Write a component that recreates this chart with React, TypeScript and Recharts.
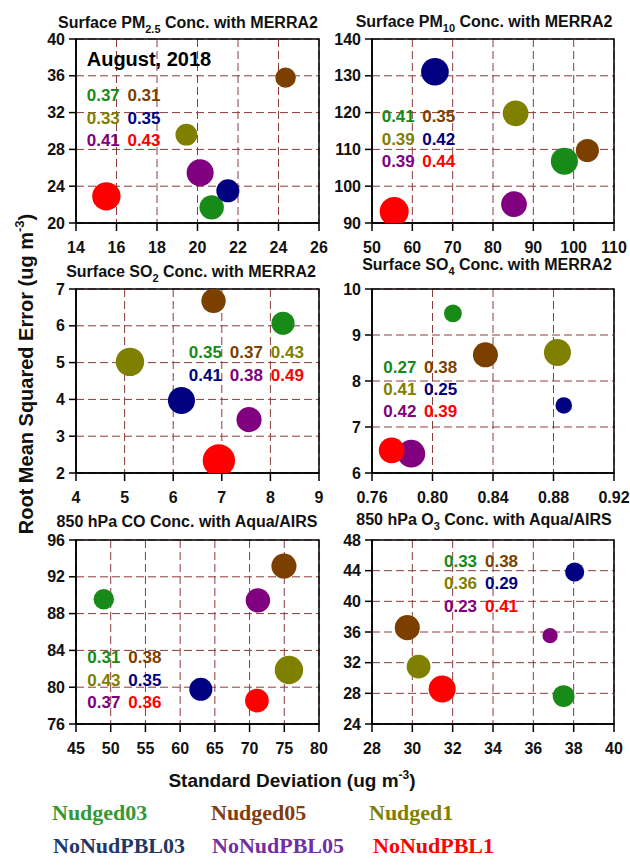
import React from 'react';
import { ScatterChart, Scatter, XAxis, YAxis, CartesianGrid, ReferenceArea, ReferenceDot } from 'recharts';

const seriesNames = ['Nudged03', 'Nudged05', 'Nudged1', 'NoNudPBL03', 'NoNudPBL05', 'NoNudPBL1'];
const bubbleColors = ['#188a18', '#7b3f00', '#808000', '#000080', '#800080', '#ff0000'];
const legendColors = ['#339933', '#843c0c', '#7f7f00', '#1f3864', '#7030a0', '#ff0000'];

// Surface PM2.5
const pm25Std = [20.7, 24.35, 19.45, 21.5, 20.13, 15.5];
const pm25Rmse = [21.7, 35.8, 29.6, 23.5, 25.46, 22.9];
const pm25Corr = [0.37, 0.31, 0.33, 0.35, 0.41, 0.43];
const pm25XTicks = [14, 16, 18, 20, 22, 24, 26];
const pm25YTicks = [20, 24, 28, 32, 36, 40];

// Surface PM10
const pm10Std = [97.7, 103.4, 85.6, 65.6, 85.2, 55.5];
const pm10Rmse = [106.8, 109.7, 119.8, 131.1, 95.1, 93.1];
const pm10Corr = [0.41, 0.35, 0.39, 0.42, 0.39, 0.44];
const pm10XTicks = [50, 60, 70, 80, 90, 100, 110];
const pm10YTicks = [90, 100, 110, 120, 130, 140];

// Surface SO2
const so2Std = [8.26, 6.83, 5.11, 6.17, 7.56, 6.94];
const so2Rmse = [6.07, 6.68, 5.02, 3.97, 3.45, 2.34];
const so2Corr = [0.35, 0.37, 0.43, 0.41, 0.38, 0.49];
const so2XTicks = [4, 5, 6, 7, 8, 9];
const so2YTicks = [2, 3, 4, 5, 6, 7];

// Surface SO4
const so4Std = [0.8135, 0.835, 0.8826, 0.8868, 0.786, 0.773];
const so4Rmse = [9.47, 8.57, 8.62, 7.47, 6.42, 6.49];
const so4Corr = [0.27, 0.38, 0.41, 0.25, 0.42, 0.39];
const so4XTicks = [0.76, 0.8, 0.84, 0.88, 0.92];
const so4YTicks = [6, 7, 8, 9, 10];

// 850 hPa CO
const coStd = [49.0, 74.95, 75.67, 62.98, 71.2, 71.06];
const coRmse = [89.55, 93.17, 81.87, 79.77, 89.44, 78.54];
const coCorr = [0.31, 0.38, 0.43, 0.35, 0.37, 0.36];
const coXTicks = [45, 50, 55, 60, 65, 70, 75, 80];
const coYTicks = [76, 80, 84, 88, 92, 96];

// 850 hPa O3
const o3Std = [37.5, 29.75, 30.31, 38.05, 36.83, 31.48];
const o3Rmse = [27.65, 36.57, 31.48, 43.83, 35.52, 28.57];
const o3Corr = [0.33, 0.38, 0.36, 0.29, 0.23, 0.41];
const o3XTicks = [28, 30, 32, 34, 36, 38, 40];
const o3YTicks = [24, 28, 32, 36, 40, 44, 48];

const SANS = '"Liberation Sans", Arial, sans-serif';
const SERIF = '"Liberation Serif", "Times New Roman", serif';
const RADIUS_PER_CORR = 33;
const GRID_COLOR = '#8e3b3b';

type PanelCfg = {
  std: number[];
  rmse: number[];
  corr: number[];
  xTicks: number[];
  yTicks: number[];
  box: [number, number, number, number];
  anno: { x: number; y: number };
  cols: number;
  colGap: number;
  rowGap: number;
  august?: boolean;
  xFmt?: (v: number) => string;
  title: { pre: string; sub: string; post: string; cx: number; base: number };
};

const panels: PanelCfg[] = [
  {
    std: pm25Std, rmse: pm25Rmse, corr: pm25Corr, xTicks: pm25XTicks, yTicks: pm25YTicks,
    box: [76, 39, 319, 223], anno: { x: 14.53, y: 33.26 }, cols: 2, colGap: 40.7, rowGap: 22.5, august: true,
    title: { pre: 'Surface PM', sub: '2.5', post: ' Conc. with MERRA2', cx: 188, base: 28 },
  },
  {
    std: pm10Std, rmse: pm10Rmse, corr: pm10Corr, xTicks: pm10XTicks, yTicks: pm10YTicks,
    box: [372, 39, 614, 223], anno: { x: 52.4, y: 117.5 }, cols: 2, colGap: 40.5, rowGap: 22.7,
    title: { pre: 'Surface PM', sub: '10', post: ' Conc. with MERRA2', cx: 484, base: 27 },
  },
  {
    std: so2Std, rmse: so2Rmse, corr: so2Corr, xTicks: so2XTicks, yTicks: so2YTicks,
    box: [76, 289, 319, 473], anno: { x: 6.32, y: 5.12 }, cols: 3, colGap: 41, rowGap: 22.7,
    title: { pre: 'Surface SO', sub: '2', post: ' Conc. with MERRA2', cx: 191, base: 277 },
  },
  {
    std: so4Std, rmse: so4Rmse, corr: so4Corr, xTicks: so4XTicks, yTicks: so4YTicks,
    box: [372, 289, 614, 473], anno: { x: 0.7675, y: 8.17 }, cols: 2, colGap: 40.7, rowGap: 21.7,
    xFmt: (v: number) => v.toFixed(2),
    title: { pre: 'Surface SO', sub: '4', post: ' Conc. with MERRA2', cx: 487, base: 270 },
  },
  {
    std: coStd, rmse: coRmse, corr: coCorr, xTicks: coXTicks, yTicks: coYTicks,
    box: [76, 540, 319, 724], anno: { x: 46.63, y: 82.6 }, cols: 2, colGap: 41, rowGap: 22.5,
    title: { pre: '850 hPa CO Conc. with Aqua/AIRS', sub: '', post: '', cx: 187, base: 527 },
  },
  {
    std: o3Std, rmse: o3Rmse, corr: o3Corr, xTicks: o3XTicks, yTicks: o3YTicks,
    box: [372, 540, 614, 724], anno: { x: 31.57, y: 44.52 }, cols: 2, colGap: 41, rowGap: 22.5,
    title: { pre: '850 hPa O', sub: '3', post: ' Conc. with Aqua/AIRS', cx: 484, base: 525 },
  },
];

const YW = 60;
const MT = 14;
const MR = 24;
const XH = 44;

const tickStyle = { fill: '#111', fontSize: 16, fontWeight: 700, fontFamily: SANS };

function AnnoText(props: any) {
  const { cx, cy, corr, cols, colGap, rowGap, august } = props;
  if (cx == null || cy == null) return null;
  return (
    <g>
      {august && (
        <text x={cx} y={cy - 35} fontSize={20} fontWeight={700} fontFamily={SANS} fill="#000">
          August, 2018
        </text>
      )}
      {corr.map((c: number, i: number) => (
        <text
          key={i}
          x={cx + (i % cols) * colGap}
          y={cy + Math.floor(i / cols) * rowGap}
          fontSize={17}
          fontWeight={700}
          fontFamily={SANS}
          fill={bubbleColors[i]}
        >
          {c.toFixed(2)}
        </text>
      ))}
    </g>
  );
}

function Panel({ p }: { p: PanelCfg }) {
  const [x0, y0, x1, y1] = p.box;
  const width = YW + (x1 - x0) + MR;
  const height = MT + (y1 - y0) + XH;
  const xMin = p.xTicks[0];
  const xMax = p.xTicks[p.xTicks.length - 1];
  const yMin = p.yTicks[0];
  const yMax = p.yTicks[p.yTicks.length - 1];
  return (
    <div style={{ position: 'absolute', left: x0 - YW, top: y0 - MT, width, height }}>
      <ScatterChart width={width} height={height} margin={{ top: MT, right: MR, bottom: 0, left: 0 }}>
        <CartesianGrid stroke={GRID_COLOR} strokeDasharray="8 4" strokeWidth={1} />
        <XAxis
          type="number"
          dataKey="std"
          domain={[xMin, xMax]}
          ticks={p.xTicks}
          interval={0}
          height={XH}
          tick={tickStyle}
          tickSize={8}
          tickMargin={11}
          tickLine={{ stroke: '#000', strokeWidth: 1.5 }}
          axisLine={{ stroke: '#000', strokeWidth: 1.5 }}
          tickFormatter={p.xFmt}
          allowDataOverflow
        />
        <YAxis
          type="number"
          dataKey="rmse"
          domain={[yMin, yMax]}
          ticks={p.yTicks}
          interval={0}
          width={YW}
          tick={tickStyle}
          tickSize={7}
          tickMargin={4}
          tickLine={{ stroke: '#000', strokeWidth: 1.5 }}
          axisLine={{ stroke: '#000', strokeWidth: 1.5 }}
          allowDataOverflow
        />
        <ReferenceArea
          x1={xMin}
          x2={xMax}
          y1={yMin}
          y2={yMax}
          fill="none"
          fillOpacity={0}
          stroke="#000"
          strokeWidth={1.5}
          ifOverflow="visible"
        />
        {seriesNames.map((name, i) => (
          <Scatter
            key={name}
            name={name}
            data={[{ std: p.std[i], rmse: p.rmse[i], corr: p.corr[i] }]}
            fill={bubbleColors[i]}
            isAnimationActive={false}
            shape={(sp: any) => (
              <circle cx={sp.cx} cy={sp.cy} r={sp.payload.corr * RADIUS_PER_CORR} fill={bubbleColors[i]} />
            )}
          />
        ))}
        <ReferenceDot
          x={p.anno.x}
          y={p.anno.y}
          r={0}
          ifOverflow="visible"
          shape={(sp: any) => (
            <AnnoText
              cx={sp.cx}
              cy={sp.cy}
              corr={p.corr}
              cols={p.cols}
              colGap={p.colGap}
              rowGap={p.rowGap}
              august={p.august}
            />
          )}
        />
      </ScatterChart>
    </div>
  );
}

const legendPos = [
  { x: 52, y: 820 },
  { x: 211, y: 820 },
  { x: 369, y: 820 },
  { x: 53, y: 853 },
  { x: 212, y: 853 },
  { x: 373, y: 853 },
];

export default function App() {
  return (
    <div style={{ position: 'absolute', left: 0, top: 0, width: 630, height: 866, background: '#fff', overflow: 'hidden' }}>
      {panels.map((p, i) => (
        <Panel key={i} p={p} />
      ))}
      <svg
        width={630}
        height={866}
        style={{ position: 'absolute', left: 0, top: 0, pointerEvents: 'none' }}
      >
        {panels.map((p, i) => (
          <text
            key={i}
            x={p.title.cx}
            y={p.title.base}
            textAnchor="middle"
            fontSize={16}
            fontWeight={700}
            fontFamily={SANS}
            fill="#111"
          >
            {p.title.pre}
            {p.title.sub && (
              <tspan dy={5} fontSize={11}>
                {p.title.sub}
              </tspan>
            )}
            {p.title.sub && <tspan dy={-5}>{p.title.post}</tspan>}
          </text>
        ))}
        <text
          transform="translate(33,374) rotate(-90)"
          textAnchor="middle"
          fontSize={20}
          fontWeight={700}
          fontFamily={SANS}
          fill="#111"
        >
          Root Mean Squared Error (ug m
          <tspan dy={-9} fontSize={13}>
            -3
          </tspan>
          <tspan dy={9}>)</tspan>
        </text>
        <text x={292} y={787} textAnchor="middle" fontSize={19} fontWeight={700} fontFamily={SANS} fill="#111">
          Standard Deviation (ug m
          <tspan dy={-8} fontSize={12}>
            -3
          </tspan>
          <tspan dy={8}>)</tspan>
        </text>
        {seriesNames.map((name, i) => (
          <text
            key={name}
            x={legendPos[i].x}
            y={legendPos[i].y}
            fontSize={22}
            fontWeight={700}
            fontFamily={SERIF}
            fill={legendColors[i]}
          >
            {name}
          </text>
        ))}
      </svg>
    </div>
  );
}
